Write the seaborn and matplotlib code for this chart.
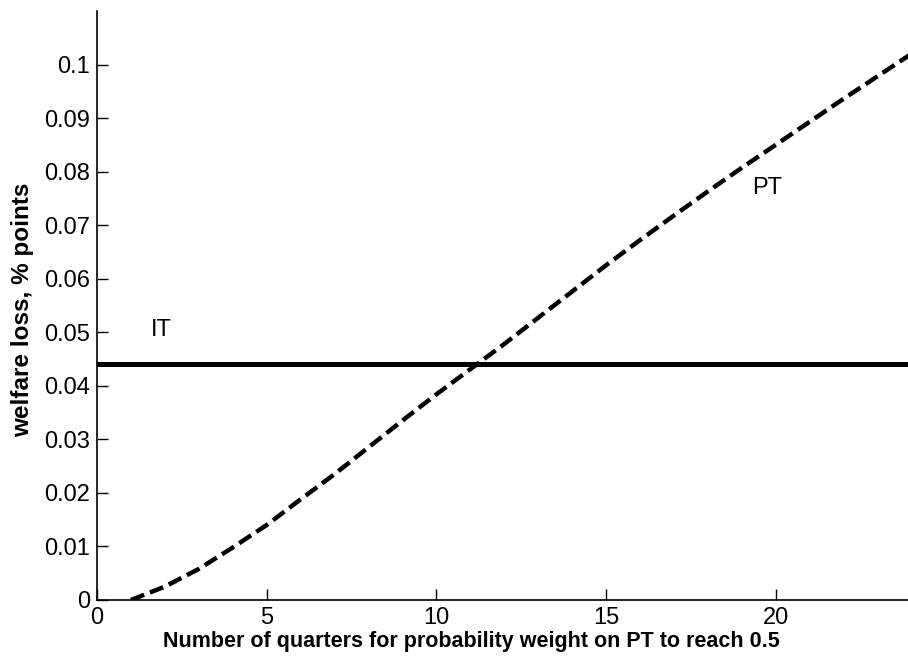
import seaborn as sns
import matplotlib.pyplot as plt
import pandas as pd

# quarters until probability weight on PT reaches 0.5
quarters = [1, 2, 3, 4, 5, 6, 7, 8, 9, 10, 11, 12,
            13, 14, 15, 16, 17, 18, 19, 20, 21, 22, 23, 24]
# welfare loss under price-level targeting (PT)
pt_loss = [0.0, 0.0025, 0.0058, 0.0098, 0.0140, 0.0188, 0.0235, 0.0285,
           0.0335, 0.0384, 0.0431, 0.0478, 0.0527, 0.0576, 0.0625, 0.0672,
           0.0718, 0.0763, 0.0807, 0.0850, 0.0893, 0.0936, 0.0978, 0.1020]
# welfare loss under inflation targeting (IT), constant
it_loss = 0.044

df = pd.DataFrame({"quarters": quarters, "loss": pt_loss})

sns.set_style("ticks", rc={"text.color": "black", "axes.labelcolor": "black",
                           "xtick.color": "black", "ytick.color": "black",
                           "axes.edgecolor": "black"})
plt.rcParams['font.family'] = ['Liberation Sans', 'DejaVu Sans']

fig = plt.figure(figsize=(9.08, 6.66), dpi=100)
ax = fig.add_axes([0.1068, 0.0991, 0.8932, 0.8844])

sns.lineplot(data=df, x="quarters", y="loss", ax=ax, color="black",
             linewidth=3.2, dashes=False)
ax.lines[-1].set_dashes((3.2, 1.4))
ax.axhline(it_loss, color="black", linewidth=3.6)

ax.text(1.6, 0.0505, "IT", fontsize=17, va="center", ha="left")
ax.text(19.3, 0.077, "PT", fontsize=17, va="center", ha="left")

ax.set_xlim(0, 23.9)
ax.set_ylim(0, 0.11)
ax.set_xticks([0, 5, 10, 15, 20])
ax.set_yticks([0, 0.01, 0.02, 0.03, 0.04, 0.05, 0.06, 0.07, 0.08, 0.09, 0.1])
ax.set_yticklabels(["0", "0.01", "0.02", "0.03", "0.04", "0.05", "0.06",
                    "0.07", "0.08", "0.09", "0.1"])
ax.tick_params(direction="in", length=8, width=1, labelsize=17, pad=5)

ax.set_xlabel("Number of quarters for probability weight on PT to reach 0.5",
              fontsize=15.5, fontweight="bold")
ax.set_ylabel("welfare loss, % points", fontsize=17.5, fontweight="bold")
ax.xaxis.set_label_coords(0.462, -0.053)
ax.yaxis.set_label_coords(-0.078, 0.492)

sns.despine(ax=ax)
for s in ["left", "bottom"]:
    ax.spines[s].set_linewidth(1.2)

fig.savefig("out.png", dpi=100)
